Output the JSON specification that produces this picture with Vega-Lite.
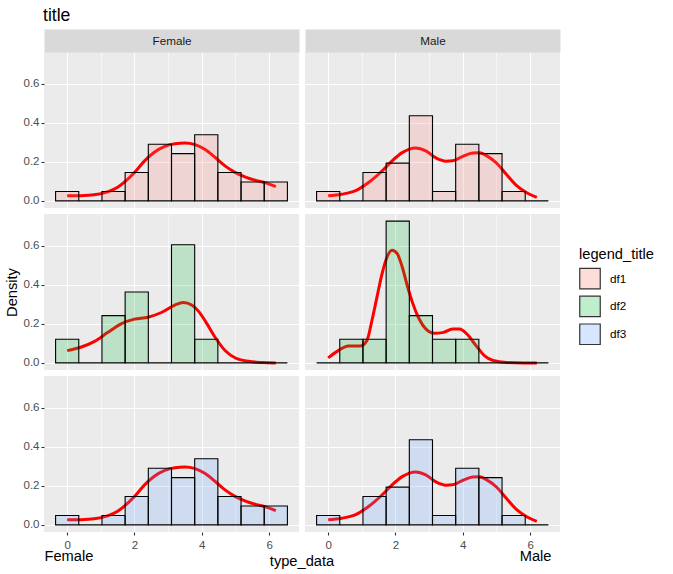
{
  "$schema": "https://vega.github.io/schema/vega-lite/v6.json",
  "padding": {"left": 4, "top": 6, "right": 5, "bottom": 5},
  "background": "#FFFFFF",
  "title": {"text": "title", "anchor": "start", "fontSize": 17.6, "font": "Liberation Sans", "fontWeight": "normal", "color": "#000000", "dx": 39, "offset": 11},
  "datasets": {
    "bars": [
      {"sex":"Female","df":"df1","x0":-0.3444,"x1":0.3444,"density":0.0484},
      {"sex":"Female","df":"df1","x0":0.3444,"x1":1.0333,"density":0},
      {"sex":"Female","df":"df1","x0":1.0333,"x1":1.7222,"density":0.0484},
      {"sex":"Female","df":"df1","x0":1.7222,"x1":2.4111,"density":0.1452},
      {"sex":"Female","df":"df1","x0":2.4111,"x1":3.1,"density":0.2903},
      {"sex":"Female","df":"df1","x0":3.1,"x1":3.7889,"density":0.2419},
      {"sex":"Female","df":"df1","x0":3.7889,"x1":4.4778,"density":0.3387},
      {"sex":"Female","df":"df1","x0":4.4778,"x1":5.1667,"density":0.1452},
      {"sex":"Female","df":"df1","x0":5.1667,"x1":5.8556,"density":0.0968},
      {"sex":"Female","df":"df1","x0":5.8556,"x1":6.5444,"density":0.0968},
      {"sex":"Male","df":"df1","x0":-0.3444,"x1":0.3444,"density":0.0484},
      {"sex":"Male","df":"df1","x0":0.3444,"x1":1.0333,"density":0},
      {"sex":"Male","df":"df1","x0":1.0333,"x1":1.7222,"density":0.1452},
      {"sex":"Male","df":"df1","x0":1.7222,"x1":2.4111,"density":0.1935},
      {"sex":"Male","df":"df1","x0":2.4111,"x1":3.1,"density":0.4355},
      {"sex":"Male","df":"df1","x0":3.1,"x1":3.7889,"density":0.0484},
      {"sex":"Male","df":"df1","x0":3.7889,"x1":4.4778,"density":0.2903},
      {"sex":"Male","df":"df1","x0":4.4778,"x1":5.1667,"density":0.2419},
      {"sex":"Male","df":"df1","x0":5.1667,"x1":5.8556,"density":0.0484},
      {"sex":"Male","df":"df1","x0":5.8556,"x1":6.5444,"density":0},
      {"sex":"Female","df":"df2","x0":-0.3444,"x1":0.3444,"density":0.121},
      {"sex":"Female","df":"df2","x0":0.3444,"x1":1.0333,"density":0},
      {"sex":"Female","df":"df2","x0":1.0333,"x1":1.7222,"density":0.2419},
      {"sex":"Female","df":"df2","x0":1.7222,"x1":2.4111,"density":0.3629},
      {"sex":"Female","df":"df2","x0":2.4111,"x1":3.1,"density":0},
      {"sex":"Female","df":"df2","x0":3.1,"x1":3.7889,"density":0.6048},
      {"sex":"Female","df":"df2","x0":3.7889,"x1":4.4778,"density":0.121},
      {"sex":"Female","df":"df2","x0":4.4778,"x1":5.1667,"density":0},
      {"sex":"Female","df":"df2","x0":5.1667,"x1":5.8556,"density":0},
      {"sex":"Female","df":"df2","x0":5.8556,"x1":6.5444,"density":0},
      {"sex":"Male","df":"df2","x0":-0.3444,"x1":0.3444,"density":0},
      {"sex":"Male","df":"df2","x0":0.3444,"x1":1.0333,"density":0.121},
      {"sex":"Male","df":"df2","x0":1.0333,"x1":1.7222,"density":0.121},
      {"sex":"Male","df":"df2","x0":1.7222,"x1":2.4111,"density":0.7258},
      {"sex":"Male","df":"df2","x0":2.4111,"x1":3.1,"density":0.2419},
      {"sex":"Male","df":"df2","x0":3.1,"x1":3.7889,"density":0.121},
      {"sex":"Male","df":"df2","x0":3.7889,"x1":4.4778,"density":0.121},
      {"sex":"Male","df":"df2","x0":4.4778,"x1":5.1667,"density":0},
      {"sex":"Male","df":"df2","x0":5.1667,"x1":5.8556,"density":0},
      {"sex":"Male","df":"df2","x0":5.8556,"x1":6.5444,"density":0},
      {"sex":"Female","df":"df3","x0":-0.3444,"x1":0.3444,"density":0.0484},
      {"sex":"Female","df":"df3","x0":0.3444,"x1":1.0333,"density":0},
      {"sex":"Female","df":"df3","x0":1.0333,"x1":1.7222,"density":0.0484},
      {"sex":"Female","df":"df3","x0":1.7222,"x1":2.4111,"density":0.1452},
      {"sex":"Female","df":"df3","x0":2.4111,"x1":3.1,"density":0.2903},
      {"sex":"Female","df":"df3","x0":3.1,"x1":3.7889,"density":0.2419},
      {"sex":"Female","df":"df3","x0":3.7889,"x1":4.4778,"density":0.3387},
      {"sex":"Female","df":"df3","x0":4.4778,"x1":5.1667,"density":0.1452},
      {"sex":"Female","df":"df3","x0":5.1667,"x1":5.8556,"density":0.0968},
      {"sex":"Female","df":"df3","x0":5.8556,"x1":6.5444,"density":0.0968},
      {"sex":"Male","df":"df3","x0":-0.3444,"x1":0.3444,"density":0.0484},
      {"sex":"Male","df":"df3","x0":0.3444,"x1":1.0333,"density":0},
      {"sex":"Male","df":"df3","x0":1.0333,"x1":1.7222,"density":0.1452},
      {"sex":"Male","df":"df3","x0":1.7222,"x1":2.4111,"density":0.1935},
      {"sex":"Male","df":"df3","x0":2.4111,"x1":3.1,"density":0.4355},
      {"sex":"Male","df":"df3","x0":3.1,"x1":3.7889,"density":0.0484},
      {"sex":"Male","df":"df3","x0":3.7889,"x1":4.4778,"density":0.2903},
      {"sex":"Male","df":"df3","x0":4.4778,"x1":5.1667,"density":0.2419},
      {"sex":"Male","df":"df3","x0":5.1667,"x1":5.8556,"density":0.0484},
      {"sex":"Male","df":"df3","x0":5.8556,"x1":6.5444,"density":0}
    ],
    "dens": [
      {"sex":"Female","df":"df1","x":0,"y":0.026},{"sex":"Female","df":"df1","x":0.4,"y":0.027},{"sex":"Female","df":"df1","x":0.8,"y":0.031},{"sex":"Female","df":"df1","x":1.2,"y":0.046},{"sex":"Female","df":"df1","x":1.5,"y":0.07},{"sex":"Female","df":"df1","x":1.7,"y":0.096},{"sex":"Female","df":"df1","x":2.0,"y":0.145},{"sex":"Female","df":"df1","x":2.3,"y":0.205},{"sex":"Female","df":"df1","x":2.6,"y":0.25},{"sex":"Female","df":"df1","x":2.9,"y":0.279},{"sex":"Female","df":"df1","x":3.2,"y":0.292},{"sex":"Female","df":"df1","x":3.5,"y":0.296},{"sex":"Female","df":"df1","x":3.8,"y":0.288},{"sex":"Female","df":"df1","x":4.1,"y":0.263},{"sex":"Female","df":"df1","x":4.4,"y":0.222},{"sex":"Female","df":"df1","x":4.7,"y":0.178},{"sex":"Female","df":"df1","x":5.0,"y":0.145},{"sex":"Female","df":"df1","x":5.3,"y":0.122},{"sex":"Female","df":"df1","x":5.6,"y":0.105},{"sex":"Female","df":"df1","x":5.9,"y":0.092},{"sex":"Female","df":"df1","x":6.2,"y":0.073},
      {"sex":"Female","df":"df3","x":0,"y":0.026},{"sex":"Female","df":"df3","x":0.4,"y":0.027},{"sex":"Female","df":"df3","x":0.8,"y":0.031},{"sex":"Female","df":"df3","x":1.2,"y":0.046},{"sex":"Female","df":"df3","x":1.5,"y":0.07},{"sex":"Female","df":"df3","x":1.7,"y":0.096},{"sex":"Female","df":"df3","x":2.0,"y":0.145},{"sex":"Female","df":"df3","x":2.3,"y":0.205},{"sex":"Female","df":"df3","x":2.6,"y":0.25},{"sex":"Female","df":"df3","x":2.9,"y":0.279},{"sex":"Female","df":"df3","x":3.2,"y":0.292},{"sex":"Female","df":"df3","x":3.5,"y":0.296},{"sex":"Female","df":"df3","x":3.8,"y":0.288},{"sex":"Female","df":"df3","x":4.1,"y":0.263},{"sex":"Female","df":"df3","x":4.4,"y":0.222},{"sex":"Female","df":"df3","x":4.7,"y":0.178},{"sex":"Female","df":"df3","x":5.0,"y":0.145},{"sex":"Female","df":"df3","x":5.3,"y":0.122},{"sex":"Female","df":"df3","x":5.6,"y":0.105},{"sex":"Female","df":"df3","x":5.9,"y":0.092},{"sex":"Female","df":"df3","x":6.2,"y":0.073},
      {"sex":"Male","df":"df1","x":0,"y":0.026},{"sex":"Male","df":"df1","x":0.4,"y":0.034},{"sex":"Male","df":"df1","x":0.8,"y":0.051},{"sex":"Male","df":"df1","x":1.2,"y":0.094},{"sex":"Male","df":"df1","x":1.6,"y":0.153},{"sex":"Male","df":"df1","x":1.9,"y":0.205},{"sex":"Male","df":"df1","x":2.2,"y":0.247},{"sex":"Male","df":"df1","x":2.4,"y":0.264},{"sex":"Male","df":"df1","x":2.6,"y":0.271},{"sex":"Male","df":"df1","x":2.9,"y":0.256},{"sex":"Male","df":"df1","x":3.2,"y":0.22},{"sex":"Male","df":"df1","x":3.5,"y":0.203},{"sex":"Male","df":"df1","x":3.7,"y":0.205},{"sex":"Male","df":"df1","x":4.0,"y":0.228},{"sex":"Male","df":"df1","x":4.3,"y":0.245},{"sex":"Male","df":"df1","x":4.5,"y":0.246},{"sex":"Male","df":"df1","x":4.7,"y":0.232},{"sex":"Male","df":"df1","x":5.0,"y":0.194},{"sex":"Male","df":"df1","x":5.3,"y":0.135},{"sex":"Male","df":"df1","x":5.6,"y":0.078},{"sex":"Male","df":"df1","x":5.9,"y":0.042},{"sex":"Male","df":"df1","x":6.2,"y":0.018},
      {"sex":"Male","df":"df3","x":0,"y":0.026},{"sex":"Male","df":"df3","x":0.4,"y":0.034},{"sex":"Male","df":"df3","x":0.8,"y":0.051},{"sex":"Male","df":"df3","x":1.2,"y":0.094},{"sex":"Male","df":"df3","x":1.6,"y":0.153},{"sex":"Male","df":"df3","x":1.9,"y":0.205},{"sex":"Male","df":"df3","x":2.2,"y":0.247},{"sex":"Male","df":"df3","x":2.4,"y":0.264},{"sex":"Male","df":"df3","x":2.6,"y":0.271},{"sex":"Male","df":"df3","x":2.9,"y":0.256},{"sex":"Male","df":"df3","x":3.2,"y":0.22},{"sex":"Male","df":"df3","x":3.5,"y":0.203},{"sex":"Male","df":"df3","x":3.7,"y":0.205},{"sex":"Male","df":"df3","x":4.0,"y":0.228},{"sex":"Male","df":"df3","x":4.3,"y":0.245},{"sex":"Male","df":"df3","x":4.5,"y":0.246},{"sex":"Male","df":"df3","x":4.7,"y":0.232},{"sex":"Male","df":"df3","x":5.0,"y":0.194},{"sex":"Male","df":"df3","x":5.3,"y":0.135},{"sex":"Male","df":"df3","x":5.6,"y":0.078},{"sex":"Male","df":"df3","x":5.9,"y":0.042},{"sex":"Male","df":"df3","x":6.2,"y":0.018},
      {"sex":"Female","df":"df2","x":0,"y":0.063},{"sex":"Female","df":"df2","x":0.4,"y":0.08},{"sex":"Female","df":"df2","x":0.8,"y":0.109},{"sex":"Female","df":"df2","x":1.2,"y":0.155},{"sex":"Female","df":"df2","x":1.6,"y":0.2},{"sex":"Female","df":"df2","x":2.0,"y":0.224},{"sex":"Female","df":"df2","x":2.4,"y":0.234},{"sex":"Female","df":"df2","x":2.8,"y":0.258},{"sex":"Female","df":"df2","x":3.2,"y":0.296},{"sex":"Female","df":"df2","x":3.45,"y":0.309},{"sex":"Female","df":"df2","x":3.7,"y":0.296},{"sex":"Female","df":"df2","x":3.9,"y":0.265},{"sex":"Female","df":"df2","x":4.1,"y":0.215},{"sex":"Female","df":"df2","x":4.4,"y":0.13},{"sex":"Female","df":"df2","x":4.7,"y":0.062},{"sex":"Female","df":"df2","x":5.0,"y":0.025},{"sex":"Female","df":"df2","x":5.4,"y":0.008},{"sex":"Female","df":"df2","x":5.8,"y":0.002},{"sex":"Female","df":"df2","x":6.2,"y":0.0},
      {"sex":"Male","df":"df2","x":0,"y":0.026},{"sex":"Male","df":"df2","x":0.3,"y":0.063},{"sex":"Male","df":"df2","x":0.6,"y":0.087},{"sex":"Male","df":"df2","x":0.95,"y":0.086},{"sex":"Male","df":"df2","x":1.15,"y":0.114},{"sex":"Male","df":"df2","x":1.3,"y":0.217},{"sex":"Male","df":"df2","x":1.45,"y":0.337},{"sex":"Male","df":"df2","x":1.6,"y":0.456},{"sex":"Male","df":"df2","x":1.75,"y":0.542},{"sex":"Male","df":"df2","x":1.9,"y":0.576},{"sex":"Male","df":"df2","x":2.05,"y":0.559},{"sex":"Male","df":"df2","x":2.2,"y":0.491},{"sex":"Male","df":"df2","x":2.35,"y":0.396},{"sex":"Male","df":"df2","x":2.5,"y":0.311},{"sex":"Male","df":"df2","x":2.7,"y":0.226},{"sex":"Male","df":"df2","x":2.9,"y":0.174},{"sex":"Male","df":"df2","x":3.15,"y":0.152},{"sex":"Male","df":"df2","x":3.4,"y":0.155},{"sex":"Male","df":"df2","x":3.7,"y":0.173},{"sex":"Male","df":"df2","x":3.9,"y":0.173},{"sex":"Male","df":"df2","x":4.15,"y":0.143},{"sex":"Male","df":"df2","x":4.4,"y":0.087},{"sex":"Male","df":"df2","x":4.65,"y":0.036},{"sex":"Male","df":"df2","x":4.9,"y":0.012},{"sex":"Male","df":"df2","x":5.3,"y":0.002},{"sex":"Male","df":"df2","x":5.8,"y":0.0},{"sex":"Male","df":"df2","x":6.2,"y":0.0}
    ]
  },
  "vconcat": [
    {
      "title": {"text": "type_data", "orient": "bottom", "anchor": "middle", "fontSize": 14.67, "font": "Liberation Sans", "fontWeight": "normal", "color": "#000000", "offset": -9, "dx": 20},
      "columns": 2,
      "spacing": {"row": 6, "column": 6},
      "bounds": "flush",
      "concat": [
        {
          "width": 255, "height": 156,
          "layer": [
            {"data": {"name": "dens"}, "transform": [{"filter": "datum.sex === 'Female' && datum.df === 'df1'"}],
             "mark": {"type": "line", "color": "#FF0000", "strokeWidth": 3, "interpolate": "monotone"},
             "encoding": {
               "x": {"field": "x", "type": "quantitative", "scale": {"domain": [-0.6889, 6.8889], "nice": false, "zero": false},
                     "axis": {"orient": "top", "domain": true, "domainColor": "#D9D9D9", "domainWidth": 23, "offset": 11.5, "labels": false, "ticks": false, "grid": false, "title": "Female", "titleFontSize": 11.7, "titleColor": "#1A1A1A", "titleBaseline": "middle", "titleY": 0, "minExtent": 0, "maxExtent": 0}},
               "y": {"field": "y", "type": "quantitative", "scale": {"domain": [-0.0363, 0.7621], "nice": false, "zero": false}}}},
            {"data": {"name": "bars"}, "transform": [{"filter": "datum.sex === 'Female' && datum.df === 'df1'"}],
             "mark": {"type": "rect", "stroke": "#000000", "strokeWidth": 1.1, "fillOpacity": 0.2},
             "encoding": {
               "x": {"field": "x0", "type": "quantitative", "scale": {"domain": [-0.6889, 6.8889], "nice": false, "zero": false},
                     "axis": {"orient": "bottom", "values": [0,1,2,3,4,5,6], "grid": true, "labels": false, "ticks": false, "title": null, "gridWidth": {"condition": {"test": "datum.value % 2 === 0", "value": 1.1}, "value": 0.55}}},
               "x2": {"field": "x1"},
               "y": {"field": "density", "type": "quantitative", "scale": {"domain": [-0.0363, 0.7621], "nice": false, "zero": false},
                     "axis": {"values": [0,0.1,0.2,0.3,0.4,0.5,0.6,0.7], "grid": true, "format": ".1f", "title": null, "labelExpr": "round(datum.value*10) % 2 === 0 ? datum.label : ''", "tickOpacity": {"condition": {"test": "round(datum.value*10) % 2 === 0", "value": 1}, "value": 0}, "gridWidth": {"condition": {"test": "round(datum.value*10) % 2 === 0", "value": 1.1}, "value": 0.55}}},
               "y2": {"datum": 0},
               "fill": {"field": "df", "type": "nominal", "title": "legend_title", "scale": {"domain": ["df1","df2","df3"], "range": ["#F8766D","#00BA38","#619CFF"]}, "legend": {"encode": {"symbols": {"update": {"fillOpacity": {"value": 0.25}}}}}}}}
          ],
          "resolve": {"axis": {"x": "independent"}}
        },
        {
          "width": 255, "height": 156,
          "layer": [
            {"data": {"name": "dens"}, "transform": [{"filter": "datum.sex === 'Male' && datum.df === 'df1'"}],
             "mark": {"type": "line", "color": "#FF0000", "strokeWidth": 3, "interpolate": "monotone"},
             "encoding": {
               "x": {"field": "x", "type": "quantitative", "scale": {"domain": [-0.6889, 6.8889], "nice": false, "zero": false},
                     "axis": {"orient": "top", "domain": true, "domainColor": "#D9D9D9", "domainWidth": 23, "offset": 11.5, "labels": false, "ticks": false, "grid": false, "title": "Male", "titleFontSize": 11.7, "titleColor": "#1A1A1A", "titleBaseline": "middle", "titleY": 0, "minExtent": 0, "maxExtent": 0}},
               "y": {"field": "y", "type": "quantitative", "scale": {"domain": [-0.0363, 0.7621], "nice": false, "zero": false}}}},
            {"data": {"name": "bars"}, "transform": [{"filter": "datum.sex === 'Male' && datum.df === 'df1'"}],
             "mark": {"type": "rect", "stroke": "#000000", "strokeWidth": 1.1, "fillOpacity": 0.2},
             "encoding": {
               "x": {"field": "x0", "type": "quantitative", "scale": {"domain": [-0.6889, 6.8889], "nice": false, "zero": false},
                     "axis": {"orient": "bottom", "values": [0,1,2,3,4,5,6], "grid": true, "labels": false, "ticks": false, "title": null, "gridWidth": {"condition": {"test": "datum.value % 2 === 0", "value": 1.1}, "value": 0.55}}},
               "x2": {"field": "x1"},
               "y": {"field": "density", "type": "quantitative", "scale": {"domain": [-0.0363, 0.7621], "nice": false, "zero": false},
                     "axis": {"values": [0,0.1,0.2,0.3,0.4,0.5,0.6,0.7], "grid": true, "labels": false, "ticks": false, "title": null, "gridWidth": {"condition": {"test": "round(datum.value*10) % 2 === 0", "value": 1.1}, "value": 0.55}}},
               "y2": {"datum": 0},
               "fill": {"field": "df", "type": "nominal", "title": "legend_title", "scale": {"domain": ["df1","df2","df3"], "range": ["#F8766D","#00BA38","#619CFF"]}, "legend": {"encode": {"symbols": {"update": {"fillOpacity": {"value": 0.25}}}}}}}}
          ],
          "resolve": {"axis": {"x": "independent"}}
        },
        {
          "width": 255, "height": 156,
          "layer": [
            {"data": {"name": "dens"}, "transform": [{"filter": "datum.sex === 'Female' && datum.df === 'df2'"}],
             "mark": {"type": "line", "color": "#FF0000", "strokeWidth": 3, "interpolate": "monotone"},
             "encoding": {
               "x": {"field": "x", "type": "quantitative", "scale": {"domain": [-0.6889, 6.8889], "nice": false, "zero": false}},
               "y": {"field": "y", "type": "quantitative", "scale": {"domain": [-0.0363, 0.7621], "nice": false, "zero": false}}}},
            {"data": {"name": "bars"}, "transform": [{"filter": "datum.sex === 'Female' && datum.df === 'df2'"}],
             "mark": {"type": "rect", "stroke": "#000000", "strokeWidth": 1.1, "fillOpacity": 0.2},
             "encoding": {
               "x": {"field": "x0", "type": "quantitative", "scale": {"domain": [-0.6889, 6.8889], "nice": false, "zero": false},
                     "axis": {"values": [0,1,2,3,4,5,6], "grid": true, "labels": false, "ticks": false, "title": null, "gridWidth": {"condition": {"test": "datum.value % 2 === 0", "value": 1.1}, "value": 0.55}}},
               "x2": {"field": "x1"},
               "y": {"field": "density", "type": "quantitative", "scale": {"domain": [-0.0363, 0.7621], "nice": false, "zero": false},
                     "axis": {"values": [0,0.1,0.2,0.3,0.4,0.5,0.6,0.7], "grid": true, "format": ".1f", "title": "Density", "titlePadding": 4, "labelExpr": "round(datum.value*10) % 2 === 0 ? datum.label : ''", "tickOpacity": {"condition": {"test": "round(datum.value*10) % 2 === 0", "value": 1}, "value": 0}, "gridWidth": {"condition": {"test": "round(datum.value*10) % 2 === 0", "value": 1.1}, "value": 0.55}}},
               "y2": {"datum": 0},
               "fill": {"field": "df", "type": "nominal", "title": "legend_title", "scale": {"domain": ["df1","df2","df3"], "range": ["#F8766D","#00BA38","#619CFF"]}, "legend": {"encode": {"symbols": {"update": {"fillOpacity": {"value": 0.25}}}}}}}}
          ]
        },
        {
          "width": 255, "height": 156,
          "layer": [
            {"data": {"name": "dens"}, "transform": [{"filter": "datum.sex === 'Male' && datum.df === 'df2'"}],
             "mark": {"type": "line", "color": "#FF0000", "strokeWidth": 3, "interpolate": "monotone"},
             "encoding": {
               "x": {"field": "x", "type": "quantitative", "scale": {"domain": [-0.6889, 6.8889], "nice": false, "zero": false}},
               "y": {"field": "y", "type": "quantitative", "scale": {"domain": [-0.0363, 0.7621], "nice": false, "zero": false}}}},
            {"data": {"name": "bars"}, "transform": [{"filter": "datum.sex === 'Male' && datum.df === 'df2'"}],
             "mark": {"type": "rect", "stroke": "#000000", "strokeWidth": 1.1, "fillOpacity": 0.2},
             "encoding": {
               "x": {"field": "x0", "type": "quantitative", "scale": {"domain": [-0.6889, 6.8889], "nice": false, "zero": false},
                     "axis": {"values": [0,1,2,3,4,5,6], "grid": true, "labels": false, "ticks": false, "title": null, "gridWidth": {"condition": {"test": "datum.value % 2 === 0", "value": 1.1}, "value": 0.55}}},
               "x2": {"field": "x1"},
               "y": {"field": "density", "type": "quantitative", "scale": {"domain": [-0.0363, 0.7621], "nice": false, "zero": false},
                     "axis": {"values": [0,0.1,0.2,0.3,0.4,0.5,0.6,0.7], "grid": true, "labels": false, "ticks": false, "title": null, "gridWidth": {"condition": {"test": "round(datum.value*10) % 2 === 0", "value": 1.1}, "value": 0.55}}},
               "y2": {"datum": 0},
               "fill": {"field": "df", "type": "nominal", "title": "legend_title", "scale": {"domain": ["df1","df2","df3"], "range": ["#F8766D","#00BA38","#619CFF"]}, "legend": {"encode": {"symbols": {"update": {"fillOpacity": {"value": 0.25}}}}}}}}
          ]
        },
        {
          "width": 255, "height": 156,
          "layer": [
            {"data": {"name": "dens"}, "transform": [{"filter": "datum.sex === 'Female' && datum.df === 'df3'"}],
             "mark": {"type": "line", "color": "#FF0000", "strokeWidth": 3, "interpolate": "monotone"},
             "encoding": {
               "x": {"field": "x", "type": "quantitative", "scale": {"domain": [-0.6889, 6.8889], "nice": false, "zero": false}},
               "y": {"field": "y", "type": "quantitative", "scale": {"domain": [-0.0363, 0.7621], "nice": false, "zero": false}}}},
            {"data": {"name": "bars"}, "transform": [{"filter": "datum.sex === 'Female' && datum.df === 'df3'"}],
             "mark": {"type": "rect", "stroke": "#000000", "strokeWidth": 1.1, "fillOpacity": 0.2},
             "encoding": {
               "x": {"field": "x0", "type": "quantitative", "scale": {"domain": [-0.6889, 6.8889], "nice": false, "zero": false},
                     "axis": {"values": [0,1,2,3,4,5,6], "grid": true, "title": "Female", "titleAnchor": "start", "titlePadding": -2, "labelPadding": 4, "labelExpr": "datum.value % 2 === 0 ? datum.label : ''", "tickOpacity": {"condition": {"test": "datum.value % 2 === 0", "value": 1}, "value": 0}, "gridWidth": {"condition": {"test": "datum.value % 2 === 0", "value": 1.1}, "value": 0.55}}},
               "x2": {"field": "x1"},
               "y": {"field": "density", "type": "quantitative", "scale": {"domain": [-0.0363, 0.7621], "nice": false, "zero": false},
                     "axis": {"values": [0,0.1,0.2,0.3,0.4,0.5,0.6,0.7], "grid": true, "format": ".1f", "title": null, "labelExpr": "round(datum.value*10) % 2 === 0 ? datum.label : ''", "tickOpacity": {"condition": {"test": "round(datum.value*10) % 2 === 0", "value": 1}, "value": 0}, "gridWidth": {"condition": {"test": "round(datum.value*10) % 2 === 0", "value": 1.1}, "value": 0.55}}},
               "y2": {"datum": 0},
               "fill": {"field": "df", "type": "nominal", "title": "legend_title", "scale": {"domain": ["df1","df2","df3"], "range": ["#F8766D","#00BA38","#619CFF"]}, "legend": {"encode": {"symbols": {"update": {"fillOpacity": {"value": 0.25}}}}}}}}
          ]
        },
        {
          "width": 255, "height": 156,
          "layer": [
            {"data": {"name": "dens"}, "transform": [{"filter": "datum.sex === 'Male' && datum.df === 'df3'"}],
             "mark": {"type": "line", "color": "#FF0000", "strokeWidth": 3, "interpolate": "monotone"},
             "encoding": {
               "x": {"field": "x", "type": "quantitative", "scale": {"domain": [-0.6889, 6.8889], "nice": false, "zero": false}},
               "y": {"field": "y", "type": "quantitative", "scale": {"domain": [-0.0363, 0.7621], "nice": false, "zero": false}}}},
            {"data": {"name": "bars"}, "transform": [{"filter": "datum.sex === 'Male' && datum.df === 'df3'"}],
             "mark": {"type": "rect", "stroke": "#000000", "strokeWidth": 1.1, "fillOpacity": 0.2},
             "encoding": {
               "x": {"field": "x0", "type": "quantitative", "scale": {"domain": [-0.6889, 6.8889], "nice": false, "zero": false},
                     "axis": {"values": [0,1,2,3,4,5,6], "grid": true, "title": "Male", "titleAnchor": "end", "titleX": 246, "titleAlign": "right", "titlePadding": -2, "labelPadding": 4, "labelExpr": "datum.value % 2 === 0 ? datum.label : ''", "tickOpacity": {"condition": {"test": "datum.value % 2 === 0", "value": 1}, "value": 0}, "gridWidth": {"condition": {"test": "datum.value % 2 === 0", "value": 1.1}, "value": 0.55}}},
               "x2": {"field": "x1"},
               "y": {"field": "density", "type": "quantitative", "scale": {"domain": [-0.0363, 0.7621], "nice": false, "zero": false},
                     "axis": {"values": [0,0.1,0.2,0.3,0.4,0.5,0.6,0.7], "grid": true, "labels": false, "ticks": false, "title": null, "gridWidth": {"condition": {"test": "round(datum.value*10) % 2 === 0", "value": 1.1}, "value": 0.55}}},
               "y2": {"datum": 0},
               "fill": {"field": "df", "type": "nominal", "title": "legend_title", "scale": {"domain": ["df1","df2","df3"], "range": ["#F8766D","#00BA38","#619CFF"]}, "legend": {"encode": {"symbols": {"update": {"fillOpacity": {"value": 0.25}}}}}}}}
          ]
        }
      ]
    }
  ],
  "config": {
    "font": "Liberation Sans",
    "view": {"fill": "#EBEBEB", "stroke": null},
    "axis": {"domain": false, "grid": true, "gridColor": "#FFFFFF", "tickColor": "#333333", "tickSize": 3, "tickWidth": 1.1, "labelColor": "#4D4D4D", "labelFont": "Liberation Sans", "labelFontSize": 11.5, "labelPadding": 2, "titleFont": "Liberation Sans", "titleFontSize": 14.67, "titleFontWeight": "normal", "titleColor": "#000000"},
    "legend": {"orient": "none", "legendX": 535, "legendY": 195, "titleFont": "Liberation Sans", "titleFontSize": 14.67, "titleFontWeight": "normal", "titleColor": "#000000", "titlePadding": 6, "labelFont": "Liberation Sans", "labelFontSize": 11.7, "labelColor": "#000000", "labelOffset": 9, "symbolType": "square", "symbolSize": 420, "symbolStrokeColor": "#333333", "symbolStrokeWidth": 1.2, "rowPadding": 1.8}
  }
}
